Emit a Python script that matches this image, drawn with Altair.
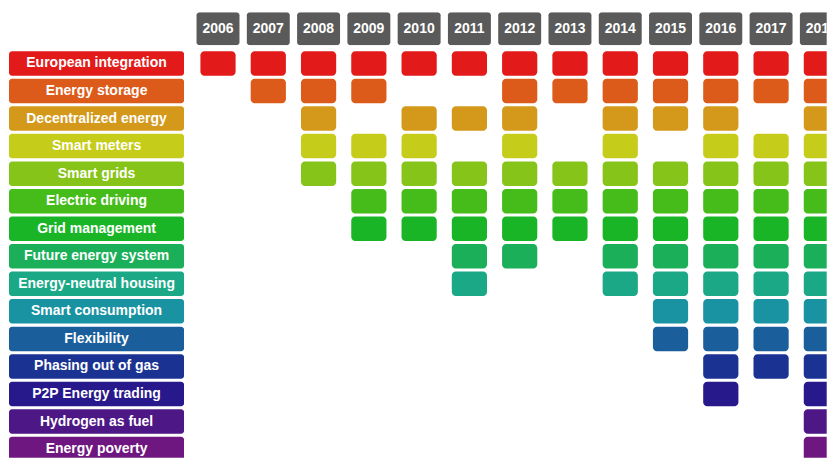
import altair as alt
import pandas as pd

topics = [
    "European integration", "Energy storage", "Decentralized energy",
    "Smart meters", "Smart grids", "Electric driving", "Grid management",
    "Future energy system", "Energy-neutral housing", "Smart consumption",
    "Flexibility", "Phasing out of gas", "P2P Energy trading",
    "Hydrogen as fuel", "Energy poverty",
]
colors = [
    "#e21a1a", "#dc5b1a", "#d4991a", "#c6cc1a", "#87c41a", "#46bc1a",
    "#1ab526", "#1aaf58", "#1aa887", "#1993a2", "#1a5e9b", "#1a3393",
    "#27188b", "#4e1786", "#6f1780",
]
years = ["2006", "2007", "2008", "2009", "2010", "2011", "2012",
         "2013", "2014", "2015", "2016", "2017", "2018"]

topics_by_year = {
    "2006": ["European integration"],
    "2007": ["European integration", "Energy storage"],
    "2008": ["European integration", "Energy storage", "Decentralized energy",
             "Smart meters", "Smart grids"],
    "2009": ["European integration", "Energy storage", "Smart meters",
             "Smart grids", "Electric driving", "Grid management"],
    "2010": ["European integration", "Decentralized energy", "Smart meters",
             "Smart grids", "Electric driving", "Grid management"],
    "2011": ["European integration", "Decentralized energy", "Smart grids",
             "Electric driving", "Grid management", "Future energy system",
             "Energy-neutral housing"],
    "2012": ["European integration", "Energy storage", "Decentralized energy",
             "Smart meters", "Smart grids", "Electric driving",
             "Grid management", "Future energy system"],
    "2013": ["European integration", "Energy storage", "Smart grids",
             "Electric driving", "Grid management"],
    "2014": ["European integration", "Energy storage", "Decentralized energy",
             "Smart meters", "Smart grids", "Electric driving",
             "Grid management", "Future energy system",
             "Energy-neutral housing"],
    "2015": ["European integration", "Energy storage", "Decentralized energy",
             "Smart grids", "Electric driving", "Grid management",
             "Future energy system", "Energy-neutral housing",
             "Smart consumption", "Flexibility"],
    "2016": ["European integration", "Energy storage", "Decentralized energy",
             "Smart meters", "Smart grids", "Electric driving",
             "Grid management", "Future energy system",
             "Energy-neutral housing", "Smart consumption", "Flexibility",
             "Phasing out of gas", "P2P Energy trading"],
    "2017": ["European integration", "Energy storage", "Smart meters",
             "Smart grids", "Electric driving", "Grid management",
             "Future energy system", "Energy-neutral housing",
             "Smart consumption", "Flexibility", "Phasing out of gas"],
    "2018": list(topics),
}

FONT = "Arial"
cells = pd.DataFrame(
    [{"year": y, "topic": t} for y in years for t in topics_by_year[y]]
)
labels = pd.DataFrame({"topic": topics})
year_df = pd.DataFrame({"year": years})

ROW_FULL = 413.6          # full extent of the 15 rows
ROW_VIS = 408.5           # visible part (page is cut at the bottom)
LABEL_W = 175.3
GRID_FULL = 50.34 * len(years)
GRID_VIS = 634.6          # visible part (page is cut at the right)
HEAD_H = 33

color = alt.Color("topic:N", scale=alt.Scale(domain=topics, range=colors), legend=None)
yscale = alt.Scale(domain=topics, paddingInner=0.111, paddingOuter=0.0555, range=[0, ROW_FULL])
y_enc = alt.Y("topic:N", scale=yscale, axis=None)

label_base = alt.Chart(labels).encode(y=y_enc)
label_chart = alt.layer(
    label_base.mark_rect(cornerRadius=3, clip=True).encode(color=color),
    label_base.mark_text(font=FONT, fontWeight="bold", fontSize=14, color="white", clip=True).encode(text="topic:N"),
).properties(width=LABEL_W, height=ROW_VIS)

grid_chart = alt.Chart(cells).mark_rect(cornerRadius=4, clip=True).encode(
    x=alt.X("year:N", scale=alt.Scale(domain=years, paddingInner=0.3, paddingOuter=0.15,
                                      range=[0, GRID_FULL]), axis=None),
    y=y_enc,
    color=color,
).properties(width=GRID_VIS, height=ROW_VIS)

head_x = alt.X("year:N", scale=alt.Scale(domain=years, paddingInner=0.146, paddingOuter=0.073,
                                         range=[0, GRID_FULL]), axis=None)
head_base = alt.Chart(year_df).encode(x=head_x)
header_chart = alt.layer(
    head_base.mark_rect(cornerRadius=3, color="#5a5a5a", clip=True),
    head_base.mark_text(font=FONT, fontWeight="bold", fontSize=14, color="white", clip=True).encode(text="year:N"),
).properties(width=GRID_VIS, height=HEAD_H)

spacer = alt.Chart(pd.DataFrame({"t": [""]})).mark_text().encode(text="t:N").properties(
    width=LABEL_W, height=HEAD_H
)

chart = alt.vconcat(
    alt.hconcat(spacer, header_chart, spacing=8.1),
    alt.hconcat(label_chart, grid_chart, spacing=8.1),
    spacing=4.5,
).properties(
    padding={"left": 1, "top": 4, "right": 0, "bottom": 0}
).configure_view(stroke=None).resolve_scale(x="independent")

chart.save("out.html", embed_options={"renderer": "svg", "actions": False})
